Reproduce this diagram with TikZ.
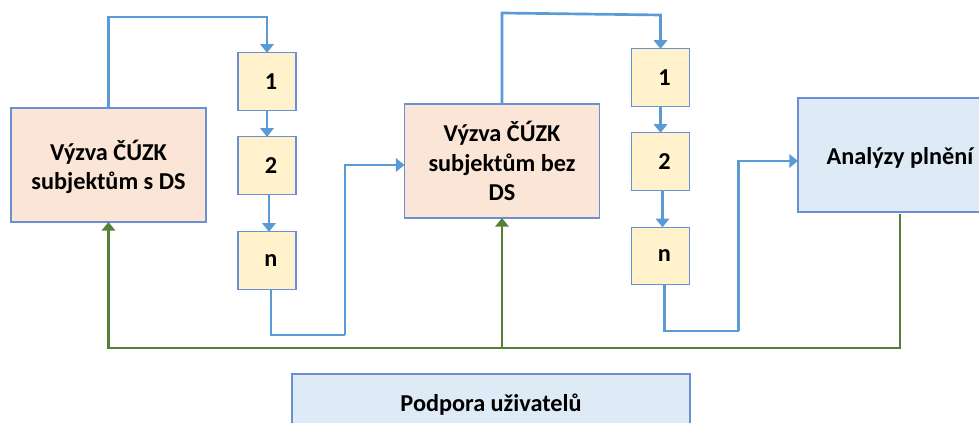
\documentclass[tikz,border=0pt]{standalone}
\usepackage{fontspec}
\setmainfont{Carlito}
\usetikzlibrary{arrows.meta}
\definecolor{pinkfill}{HTML}{FBE5D6}
\definecolor{yellowfill}{HTML}{FFF2CC}
\definecolor{bluefill}{HTML}{DEEBF7}
\definecolor{edgeblue}{HTML}{6A8FD3}
\definecolor{lineblue}{HTML}{5B9BD5}
\definecolor{linegreen}{HTML}{548235}
\newcommand{\dropln}[2]{\raisebox{-#1}[\height][\depth]{#2}}
\tikzset{
  x=0.75pt,y=-0.75pt,
  box/.style={draw=edgeblue,line width=0.9pt,outer sep=0pt,inner sep=0pt,align=center,
    font=\fontsize{18.2pt}{22pt}\selectfont\bfseries},
  bigbox/.style={box,fill=pinkfill,minimum width=146.25pt,minimum height=85.5pt},
  smallbox/.style={box,fill=yellowfill,minimum width=43.5pt,minimum height=43pt},
  infobox/.style={box,fill=bluefill},
  flow/.style={draw=lineblue,line width=2pt,-{Triangle[width=10pt,length=6.5pt]}},
  flowplain/.style={draw=lineblue,line width=2pt},
  back/.style={draw=linegreen,line width=2pt,-{Triangle[width=10pt,length=6.5pt]}},
  backplain/.style={draw=linegreen,line width=2pt,line cap=rect}
}
\begin{document}
\begin{tikzpicture}
\clip (0,0) rectangle (979,423);
\fill[white] (0,0) rectangle (979,423);
% boxes
\node[bigbox] (A) at (108.5,165) {\dropln{1.5pt}{Výzva ČÚZK}\\\dropln{1.5pt}{subjektům s DS}};
\node[smallbox] (a1) at (267,81.5) {\hspace*{6pt}1};
\node[smallbox] (a2) at (267,165.5) {\hspace*{6pt}2};
\node[smallbox] (a3) at (267,260.5) {\hspace*{6pt}n};
\node[bigbox] (B) at (502,161) {Výzva ČÚZK\\subjektům bez\\DS};
\node[smallbox] (b1) at (660.5,77.5) {\hspace*{6pt}1};
\node[smallbox] (b2) at (660.5,161.5) {\hspace*{6pt}2};
\node[smallbox] (b3) at (660.5,256) {\hspace*{6pt}n};
\node[infobox,minimum width=153pt,minimum height=85.5pt] (C) at (900,155) {\dropln{2.5pt}{Analýzy plnění}};
\node[infobox,minimum width=298.5pt,minimum height=43.5pt] (D) at (491,403) {\dropln{1.5pt}{Podpora uživatelů}};
% waypoints
\coordinate (t1) at (267,17);
\coordinate (u1) at (271,335);
\coordinate (v1) at (345,335);
\coordinate (w1) at (345,165);
\coordinate (t2a) at (502,13);
\coordinate (t2b) at (660.5,15);
\coordinate (u2) at (664.5,331);
\coordinate (v2) at (738.5,331);
\coordinate (w2) at (738.5,161);
\coordinate (g0) at (900,215);
\coordinate (g1) at (900,348);
\coordinate (g2) at (108.5,348);
\coordinate (g3) at (502,348);
% blue connectors
\draw[flow] (A.north) |- (t1) -- (a1.north);
\draw[flow] (a1.south) -- (a2.north);
\draw[flow] ([xshift=1.5pt]a2.south) -- ([xshift=1.5pt]a3.north);
\draw[flowplain] (u1 |- a3.south) -- (u1) -- (v1);
\draw[flow] (v1) -- (w1) -- (w1 -| B.west);
\draw[flow] (B.north) -- (t2a) -- (t2b) -- (b1.north);
\draw[flow] (b1.south) -- (b2.north);
\draw[flow] ([xshift=1.5pt]b2.south) -- ([xshift=1.5pt]b3.north);
\draw[flowplain] (u2 |- b3.south) -- (u2) -- (v2);
\draw[flow] (v2) -- (w2) -- (w2 -| C.west);
% green connectors
\draw[backplain] (g0) -- (g1) -- (g3);
\draw[back] (g3) -- (g2) -- (A.south);
\draw[back] (g3) -- (B.south);
\end{tikzpicture}
\end{document}
